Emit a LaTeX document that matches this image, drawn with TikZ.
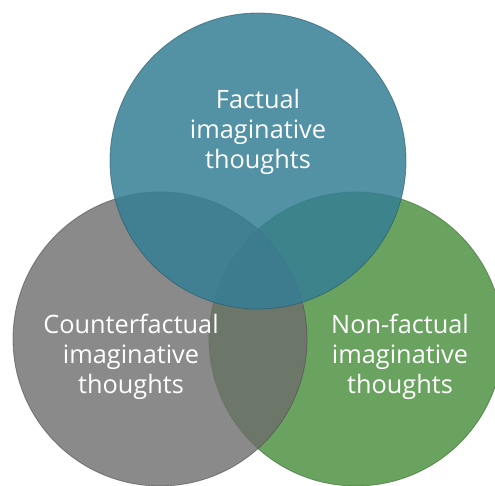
\documentclass[tikz,border=0pt]{standalone}
\usepackage{fontspec}
\setmainfont{Open Sans}
\definecolor{cblue}{HTML}{357E95}
\definecolor{cgray}{HTML}{6D6D6D}
\definecolor{cgreen}{HTML}{509343}
\begin{document}
\begin{tikzpicture}[x=1pt,y=-1pt,
  venn/.style={draw opacity=0.6, line width=0.8pt},
  lbl/.style={text=white, align=center, font=\fontsize{25.3}{30}\selectfont, inner sep=0pt}]
\useasboundingbox (0,0) rectangle (495,485);
\fill[white] (0,0) rectangle (495,485);
\begin{scope}
\clip (0,0) rectangle (495,485);
\draw[venn, fill opacity=0.85, fill=cgreen, draw=cgreen!70!black] (356,339) circle[radius=147];
\draw[venn, fill opacity=0.8, fill=cgray, draw=cgray!70!black] (160,339) circle[radius=147];
\draw[venn, fill opacity=0.85, fill=cblue, draw=cblue!70!black] (258,161) circle[radius=148];
\end{scope}
\node[lbl] (fact) at (258,132) {Factual\\imaginative\\thoughts};
\node[lbl] (counter) at (131,357) {Counterfactual\\imaginative\\thoughts};
\node[lbl] (nonfact) at (400,357) {Non-factual\\imaginative\\thoughts};
\end{tikzpicture}
\end{document}
